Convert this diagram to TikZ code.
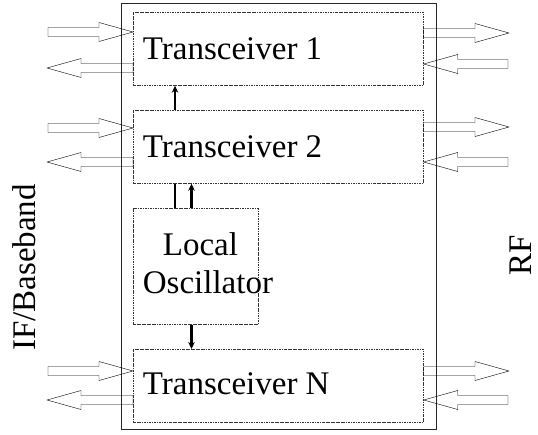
\documentclass[tikz,border=0pt]{standalone}
\usepackage{fontspec}
\setmainfont{Liberation Serif}
\usetikzlibrary{arrows.meta,calc}

\begin{document}
\begin{tikzpicture}[x=1pt,y=-1pt,
  outerbox/.style={draw=black!85,line width=1.1pt,inner sep=0pt,anchor=north west},
  unitbox/.style={draw=black!80,line width=0.7pt,
    dash pattern=on 2.5pt off 1pt on 0.6pt off 1pt,inner sep=0pt,anchor=north west},
  lbl/.style={font=\fontsize{33}{38}\selectfont,inner sep=0pt,anchor=base west},
  sidelbl/.style={font=\fontsize{33}{38}\selectfont,inner sep=0pt,anchor=base,rotate=90},
  link/.style={line width=2.6pt,-{Stealth[length=7pt,width=6.5pt]}},
  plainlink/.style={line width=2.8pt},
  hollow/.style={draw=black!90,line width=1.1pt,line join=miter,
    to path={let \p1=(\tikztostart), \p2=(\tikztotarget),
      \n1={ifthenelse(\x2>\x1,1,-1)} in
      (\x1,\y1+4.5pt) -- (\x2-\n1*34pt,\y1+4.5pt) -- (\x2-\n1*34pt,\y1+9.5pt)
      -- (\x2,\y1) -- (\x2-\n1*34pt,\y1-9.5pt) -- (\x2-\n1*34pt,\y1-4.5pt)
      -- (\x1,\y1-4.5pt) -- cycle}}]

\useasboundingbox (0,0) rectangle (538,434);

% enclosing module
\node[outerbox,minimum width=315pt,minimum height=426pt] (chip) at (120.5,3) {};

% transceivers and local oscillator
\node[unitbox,minimum width=290pt,minimum height=73pt] (t1) at (133,12) {};
\node[unitbox,minimum width=290pt,minimum height=73pt] (t2) at (133,110) {};
\node[unitbox,minimum width=125pt,minimum height=116pt] (lo) at (132.7,208.3) {};
\node[unitbox,minimum width=290pt,minimum height=73pt] (tn) at (133,349) {};

\node[lbl] at (142.7,59.3) {Transceiver 1};
\node[lbl] at (142.7,157.3) {Transceiver 2};
\node[lbl] at (162.7,255) {Local};
\node[lbl] at (142.7,293.3) {Oscillator};
\node[lbl] at (142.7,394) {Transceiver N};

% side labels
\node[sidelbl] (ifl) at (35,267.5) {IF/Baseband};
\node[sidelbl] (rfl) at (531,255) {RF};

% oscillator distribution
\coordinate (c1) at (175,0);
\coordinate (c2) at (191.5,0);
\draw[link] (c1 |- t2.north) -- (c1 |- t1.south);
\draw[plainlink] (c1 |- lo.north) -- (c1 |- t2.south);
\draw[link] (c2 |- lo.north) -- (c2 |- t2.south);
\draw[link] (c2 |- lo.south) -- (c2 |- tn.north);

% IF/baseband ports
\coordinate (li1) at (48,32);   \coordinate (lo1) at (47,68);
\coordinate (li2) at (48,128);  \coordinate (lo2) at (47,162);
\coordinate (li3) at (48,371);  \coordinate (lo3) at (47,400);
\draw (li1) to[hollow] (li1 -| t1.west);
\draw (lo1 -| t1.west) to[hollow] (lo1);
\draw (li2) to[hollow] (li2 -| t2.west);
\draw (lo2 -| t2.west) to[hollow] (lo2);
\draw (li3) to[hollow] (li3 -| tn.west);
\draw (lo3 -| tn.west) to[hollow] (lo3);

% RF ports
\coordinate (ro1) at (509,33);  \coordinate (ri1) at (508,64);
\coordinate (ro2) at (509,127); \coordinate (ri2) at (508,162);
\coordinate (ro3) at (509,371); \coordinate (ri3) at (508,400);
\draw (ro1 -| t1.east) to[hollow] (ro1);
\draw (ri1) to[hollow] (ri1 -| t1.east);
\draw (ro2 -| t2.east) to[hollow] (ro2);
\draw (ri2) to[hollow] (ri2 -| t2.east);
\draw (ro3 -| tn.east) to[hollow] (ro3);
\draw (ri3) to[hollow] (ri3 -| tn.east);

\end{tikzpicture}
\end{document}
